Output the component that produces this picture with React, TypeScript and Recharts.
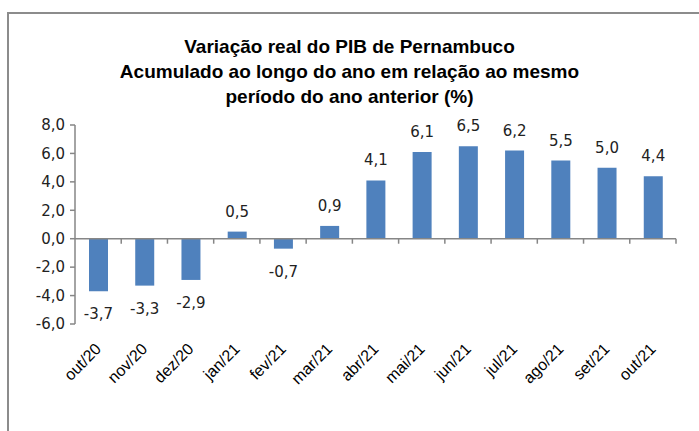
import React from 'react';
import { BarChart, Bar, XAxis, YAxis, LabelList, ReferenceLine } from 'recharts';

const months = ['out/20', 'nov/20', 'dez/20', 'jan/21', 'fev/21', 'mar/21', 'abr/21', 'mai/21', 'jun/21', 'jul/21', 'ago/21', 'set/21', 'out/21'];
const pibValues = [-3.7, -3.3, -2.9, 0.5, -0.7, 0.9, 4.1, 6.1, 6.5, 6.2, 5.5, 5.0, 4.4];
const yTicks = [-6, -4, -2, 0, 2, 4, 6, 8];
const titleLines = [
  'Variação real do PIB de Pernambuco',
  'Acumulado ao longo do ano em relação ao mesmo',
  'período do ano anterior (%)',
];

const chartData = months.map((m, i) => ({ month: m, value: pibValues[i] }));

const fmt = (v: number) => v.toFixed(1).replace('.', ',');

const AXIS_COLOR = '#868686';

// linha do zero com marcas entre as categorias
const ZeroLine = (props: any) => {
  const { x1, x2, y1 } = props;
  const n = months.length;
  const step = (x2 - x1) / n;
  const marks = [];
  for (let k = 1; k <= n; k++) {
    const x = x1 + k * step;
    marks.push(<line key={k} x1={x} x2={x} y1={y1} y2={y1 + 5} stroke={AXIS_COLOR} strokeWidth={1.5} />);
  }
  return (
    <g>
      <line x1={x1} x2={x2} y1={y1} y2={y1} stroke={AXIS_COLOR} strokeWidth={1.5} />
      {marks}
    </g>
  );
};

const MonthTick = (props: any) => {
  const { x, y, payload } = props;
  const ax = x + 4;
  const ay = y + 26;
  return (
    <text
      x={ax}
      y={ay}
      textAnchor="end"
      transform={`rotate(-45, ${ax}, ${ay})`}
      fontFamily="Liberation Sans, Arial, sans-serif"
      fontSize={16}
      fill="#000"
    >
      {payload.value}
    </text>
  );
};

const ValueLabel = (props: any) => {
  const { x, y, width, height, value } = props;
  const top = Math.min(y, y + height);
  const bottom = Math.max(y, y + height);
  const ly = value >= 0 ? top - 20 : bottom + 23;
  return (
    <text
      x={x + width / 2}
      y={ly}
      textAnchor="middle"
      dominantBaseline="central"
      fontFamily="DejaVu Sans, Verdana, sans-serif"
      fontSize={15}
      fill="#222"
    >
      {fmt(value)}
    </text>
  );
};

export default function App() {
  return (
    <div style={{ position: 'absolute', left: 0, top: 0, width: 699, height: 431, overflow: 'hidden', background: '#fff' }}>
      <div
        style={{
          position: 'absolute',
          left: 7,
          top: 12,
          width: 760,
          height: 500,
          border: '2px solid #8c8c8c',
        }}
      />
      <div
        style={{
          position: 'absolute',
          left: 0,
          top: 34,
          width: 699,
          textAlign: 'center',
          fontFamily: 'Liberation Sans, Arial, sans-serif',
          fontWeight: 'bold',
          fontSize: 19,
          lineHeight: '25px',
          color: '#000',
        }}
      >
        {titleLines.map((t) => (
          <div key={t}>{t}</div>
        ))}
      </div>
      <div style={{ position: 'absolute', left: 0, top: 0 }}>
        <BarChart
          width={699}
          height={431}
          data={chartData}
          margin={{ top: 125, right: 23, bottom: 47, left: 0 }}
          barSize={19}
        >
          <YAxis
            width={75}
            domain={[-6, 8]}
            ticks={yTicks}
            interval={0}
            tickFormatter={fmt}
            axisLine={{ stroke: AXIS_COLOR, strokeWidth: 1.5 }}
            tickLine={{ stroke: AXIS_COLOR, strokeWidth: 1.5 }}
            tickSize={5}
            tickMargin={5}
            tick={{ fontFamily: 'DejaVu Sans, Verdana, sans-serif', fontSize: 15, fill: '#222' }}
          />
          <XAxis
            dataKey="month"
            height={60}
            axisLine={false}
            tickLine={false}
            tickSize={0}
            tickMargin={0}
            interval={0}
            tick={<MonthTick />}
          />
          <ReferenceLine y={0} shape={<ZeroLine />} />
          <Bar dataKey="value" fill="#4F81BD" isAnimationActive={false}>
            <LabelList dataKey="value" content={<ValueLabel />} />
          </Bar>
        </BarChart>
      </div>
    </div>
  );
}
